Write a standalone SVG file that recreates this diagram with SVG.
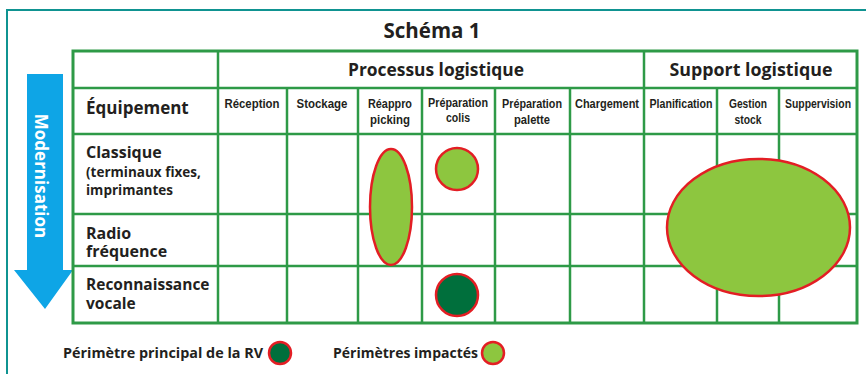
<svg xmlns="http://www.w3.org/2000/svg" width="866" height="374" viewBox="0 0 866 374">
<style>
.grid line{stroke:#2e9a47;stroke-width:2.5}
.b{font-family:"Open Sans","Liberation Sans",sans-serif;font-weight:bold;fill:#231f20}
.h{font-family:"Liberation Sans Narrow","Liberation Sans",sans-serif;font-size:13px;font-weight:bold;fill:#231f20;text-anchor:middle}
.lg{fill:#8dc63f;stroke:#e31e24;stroke-width:2.5}
.dg{fill:#006f3c;stroke:#e31e24;stroke-width:2.5}
</style>
<rect x="0" y="0" width="866" height="374" fill="#fff"/>
<rect x="7" y="10" width="875" height="380" fill="none" stroke="#0f9391" stroke-width="2"/>
<text class="b" x="432" y="38" font-size="20.5" text-anchor="middle">Schéma 1</text>
<g id="arrow">
<polygon points="27,74 63,74 63,270 73,270 45,309 14,270 27,270" fill="#0ea5e6"/>
<text class="b" transform="translate(35,176) rotate(90)" font-size="17" text-anchor="middle" style="fill:#fff">Modernisation</text>
</g>
<g id="grid" class="grid">
<rect x="73" y="51" width="784" height="272" fill="#fff" stroke="#2e9a47" stroke-width="3"/>
<line x1="73" y1="88" x2="857" y2="88"/>
<line x1="73" y1="134" x2="857" y2="134"/>
<line x1="73" y1="214" x2="857" y2="214"/>
<line x1="73" y1="266" x2="857" y2="266"/>
<line x1="218" y1="51" x2="218" y2="323"/>
<line x1="644" y1="51" x2="644" y2="323"/>
<line x1="287" y1="88" x2="287" y2="323"/>
<line x1="358" y1="88" x2="358" y2="323"/>
<line x1="422" y1="88" x2="422" y2="323"/>
<line x1="495" y1="88" x2="495" y2="323"/>
<line x1="570" y1="88" x2="570" y2="323"/>
<line x1="717" y1="88" x2="717" y2="323"/>
<line x1="779" y1="88" x2="779" y2="323"/>
</g>
<g id="headers">
<text class="b" x="436" y="76" font-size="17" text-anchor="middle" textLength="176" lengthAdjust="spacingAndGlyphs">Processus logistique</text>
<text class="b" x="751" y="76" font-size="17" text-anchor="middle" textLength="163" lengthAdjust="spacingAndGlyphs">Support logistique</text>
<text class="h" x="252" y="108" textLength="55" lengthAdjust="spacingAndGlyphs">Réception</text>
<text class="h" x="322" y="108" textLength="51" lengthAdjust="spacingAndGlyphs">Stockage</text>
<text class="h" x="390" y="108" textLength="44" lengthAdjust="spacingAndGlyphs">Réappro</text>
<text class="h" x="390" y="124" textLength="40" lengthAdjust="spacingAndGlyphs">picking</text>
<text class="h" x="458" y="107" textLength="60" lengthAdjust="spacingAndGlyphs">Préparation</text>
<text class="h" x="458" y="122" textLength="24" lengthAdjust="spacingAndGlyphs">colis</text>
<text class="h" x="532" y="108" textLength="60" lengthAdjust="spacingAndGlyphs">Préparation</text>
<text class="h" x="532" y="124" textLength="36" lengthAdjust="spacingAndGlyphs">palette</text>
<text class="h" x="607" y="108" textLength="64" lengthAdjust="spacingAndGlyphs">Chargement</text>
<text class="h" x="681" y="108" textLength="63" lengthAdjust="spacingAndGlyphs">Planification</text>
<text class="h" x="748" y="108" textLength="38" lengthAdjust="spacingAndGlyphs">Gestion</text>
<text class="h" x="748" y="124" textLength="27" lengthAdjust="spacingAndGlyphs">stock</text>
<text class="h" x="818" y="108" textLength="66" lengthAdjust="spacingAndGlyphs">Suppervision</text>
</g>
<g id="rows">
<text class="b" x="86" y="114" font-size="17">Équipement</text>
<text class="b" x="86" y="158" font-size="16">Classique</text>
<text class="b" x="86" y="177" font-size="13.5">(terminaux fixes,</text>
<text class="b" x="86" y="195" font-size="13.5">imprimantes</text>
<text class="b" x="86" y="239" font-size="16">Radio</text>
<text class="b" x="86" y="257" font-size="16">fréquence</text>
<text class="b" x="86" y="290" font-size="15.5">Reconnaissance</text>
<text class="b" x="86" y="309" font-size="15.5">vocale</text>
</g>
<g id="shapes">
<ellipse id="reappro" class="lg" cx="391" cy="207" rx="21" ry="58"/>
<circle id="colis" class="lg" cx="457" cy="169" r="21"/>
<circle id="colis-rv" class="dg" cx="457" cy="295" r="21"/>
<ellipse id="support" class="lg" cx="758.5" cy="227.5" rx="91.5" ry="68.5"/>
</g>
<g id="legend">
<text class="b" x="63" y="358" font-size="14" textLength="200" lengthAdjust="spacingAndGlyphs">Périmètre principal de la RV</text>
<circle class="dg" cx="280" cy="353" r="11"/>
<text class="b" x="333" y="358" font-size="14" textLength="145" lengthAdjust="spacingAndGlyphs">Périmètres impactés</text>
<circle class="lg" cx="493" cy="353" r="11"/>
</g>
</svg>
